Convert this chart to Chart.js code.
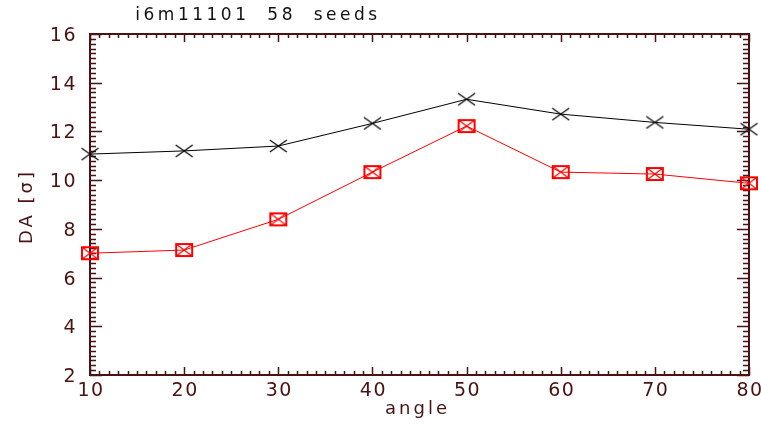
<!DOCTYPE html>
<html>
<head>
<meta charset="utf-8">
<script src="https://cdn.jsdelivr.net/npm/chart.js@4"></script>
<style>
  html, body { margin: 0; padding: 0; background: #ffffff; }
  #wrap { width: 761px; height: 424px; }
</style>
</head>
<body>
<div id="wrap"><canvas id="chart" width="761" height="424"></canvas></div>
<script>
// Dynamic aperture vs. angle, two runs
const angles = [10, 20, 30, 40, 50, 60, 70, 80];
const daUpper = [11.07, 11.2, 11.4, 12.33, 13.32, 12.71, 12.37, 12.09];
const daLower = [7.0, 7.13, 8.39, 10.33, 12.22, 10.33, 10.25, 9.87];

const xTickValues = [10, 20, 30, 40, 50, 60, 70, 80];
const xTickLabels = ['10', '20', '30', '40', '50', '60', '70', '80'];
const yTickValues = [2, 4, 6, 8, 10, 12, 14, 16];
const yTickLabels = ['2', '4', '6', '8', '10', '12', '14', '16'];
const xMinorStep = 1;
const yMinorStep = 0.2;

const titleText = 'i6m11101  58  seeds';
const xTitle = 'angle';
const yTitle = 'DA [\u03c3]';

const AXIS = '#4a1212';
const FONT_FAMILY = '"DejaVu Sans", "Liberation Sans", sans-serif';

// Flattened "X" marker
function crossMarker(w, h, color) {
  const c = document.createElement('canvas');
  c.width = w + 2; c.height = h + 2;
  const g = c.getContext('2d');
  g.strokeStyle = color; g.lineWidth = 1.2;
  g.beginPath();
  g.moveTo(1, 1); g.lineTo(w + 1, h + 1);
  g.moveTo(w + 1, 1); g.lineTo(1, h + 1);
  g.stroke();
  return c;
}

// Box with an "X" inside
function boxCrossMarker(w, h, color) {
  const c = document.createElement('canvas');
  c.width = w + 4; c.height = h + 4;
  const g = c.getContext('2d');
  g.strokeStyle = color; g.lineWidth = 2;
  g.strokeRect(2, 2, w, h);
  g.lineWidth = 1.2;
  g.beginPath();
  g.moveTo(2, 2); g.lineTo(w + 2, h + 2);
  g.moveTo(w + 2, 2); g.lineTo(2, h + 2);
  g.stroke();
  return c;
}

const upperMarker = crossMarker(17, 12, '#000000');
const lowerMarker = boxCrossMarker(16, 12, '#ff0000');

function drawText(ctx, text, x, y, opts) {
  ctx.save();
  ctx.font = opts.font;
  ctx.fillStyle = opts.color;
  ctx.letterSpacing = (opts.spacing || 0) + 'px';
  ctx.textAlign = opts.align || 'center';
  ctx.textBaseline = opts.baseline || 'alphabetic';
  ctx.translate(x, y);
  if (opts.rotate) ctx.rotate(opts.rotate);
  ctx.fillText(text, 0, 0);
  ctx.restore();
}

const framePlugin = {
  id: 'frame',
  beforeDatasetsDraw(chart) {
    const { ctx, chartArea: a, scales: { x, y } } = chart;
    ctx.save();
    ctx.strokeStyle = AXIS;

    // minor and major ticks, inward on all four sides
    ctx.lineWidth = 1.5;
    ctx.beginPath();
    for (let v = x.min; v <= x.max + 1e-9; v += xMinorStep) {
      const px = Math.round(x.getPixelForValue(v)) + 0.5;
      const major = xTickValues.some(t => Math.abs(t - v) < 1e-6);
      const len = major ? 8 : 4;
      ctx.moveTo(px, a.bottom); ctx.lineTo(px, a.bottom - len);
      ctx.moveTo(px, a.top); ctx.lineTo(px, a.top + len);
    }
    for (let v = y.min; v <= y.max + 1e-9; v += yMinorStep) {
      const py = Math.round(y.getPixelForValue(v)) + 0.5;
      const major = yTickValues.some(t => Math.abs(t - v) < 1e-6);
      const len = major ? 12 : 6;
      ctx.moveTo(a.left, py); ctx.lineTo(a.left + len, py);
      ctx.moveTo(a.right, py); ctx.lineTo(a.right - len, py);
    }
    ctx.stroke();

    // axis box
    ctx.lineWidth = 2;
    ctx.strokeRect(a.left, a.top, a.right - a.left, a.bottom - a.top);
    ctx.restore();
  },
  afterDraw(chart) {
    const { ctx, chartArea: a, scales: { x, y } } = chart;
    const tickFont = '19px ' + FONT_FAMILY;

    xTickValues.forEach((v, i) => {
      drawText(ctx, xTickLabels[i], x.getPixelForValue(v) + 1, a.bottom + 21,
        { font: tickFont, color: AXIS, spacing: 1.5, align: 'center' });
    });
    yTickValues.forEach((v, i) => {
      drawText(ctx, yTickLabels[i], a.left - 13, y.getPixelForValue(v) + 7,
        { font: tickFont, color: AXIS, spacing: 1.5, align: 'right' });
    });

    drawText(ctx, xTitle, (a.left + a.right) / 2 - 2, 414,
      { font: '18px ' + FONT_FAMILY, color: AXIS, spacing: 3 });
    drawText(ctx, yTitle, 32, (a.top + a.bottom) / 2 + 2,
      { font: '18px ' + FONT_FAMILY, color: AXIS, spacing: 3, rotate: -Math.PI / 2 });
    drawText(ctx, titleText, 258, 20,
      { font: '17px ' + FONT_FAMILY, color: '#111111', spacing: 3.5, align: 'center' });
  }
};

new Chart(document.getElementById('chart'), {
  type: 'line',
  data: {
    datasets: [
      {
        label: 'upper',
        data: angles.map((a, i) => ({ x: a, y: daUpper[i] })),
        borderColor: '#000000',
        borderWidth: 1,
        pointStyle: upperMarker,
        pointRadius: 8,
        clip: false,
        tension: 0
      },
      {
        label: 'lower',
        data: angles.map((a, i) => ({ x: a, y: daLower[i] })),
        borderColor: '#ff0000',
        borderWidth: 1,
        pointStyle: lowerMarker,
        pointRadius: 8,
        clip: false,
        tension: 0
      }
    ]
  },
  options: {
    responsive: false,
    animation: false,
    layout: { padding: { left: 90, right: 12, top: 34, bottom: 49 } },
    plugins: { legend: { display: false }, tooltip: { enabled: false }, title: { display: false } },
    scales: {
      x: { type: 'linear', min: 10, max: 80, display: false },
      y: { type: 'linear', min: 2, max: 16, display: false }
    }
  },
  plugins: [framePlugin]
});
</script>
</body>
</html>
